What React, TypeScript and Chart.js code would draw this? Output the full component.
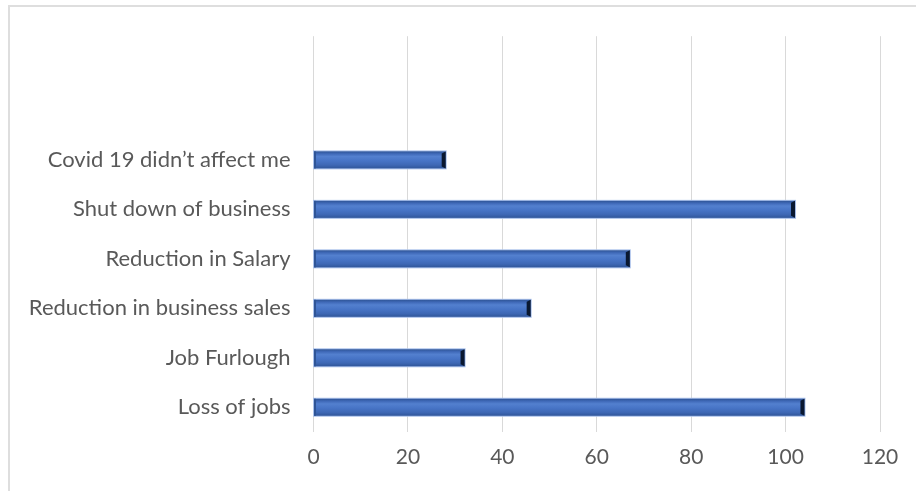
import React, { useEffect, useRef } from "react";
import { Chart, registerables } from "chart.js";

Chart.register(...registerables);

const categories: string[] = [
  "",
  "",
  "Covid 19 didn’t affect me",
  "Shut down of business",
  "Reduction in Salary",
  "Reduction in business sales",
  "Job Furlough",
  "Loss of jobs",
];
const values: (number | null)[] = [null, null, 28, 102, 67, 46, 32, 104];
const xTicks = { min: 0, max: 120, step: 20 };

const bevelPlugin = {
  id: "bevelBars",
  afterDatasetsDraw(chart: any) {
    const ctx = chart.ctx as CanvasRenderingContext2D;
    const meta = chart.getDatasetMeta(0);
    meta.data.forEach((el: any, i: number) => {
      if (values[i] == null) return;
      const { x, y, base, height } = el.getProps(["x", "y", "base", "height"], true);
      const top = y - height / 2;
      const left = base;
      const w = x - base;
      ctx.save();
      ctx.fillStyle = "#A9C0EA";
      ctx.fillRect(left - 1, top - 1, w + 2, height + 2);
      const g = ctx.createLinearGradient(0, top, 0, top + height);
      g.addColorStop(0, "#2F5597");
      g.addColorStop(0.14, "#3F69B8");
      g.addColorStop(0.3, "#5380CF");
      g.addColorStop(0.55, "#4774C6");
      g.addColorStop(0.8, "#3E68B5");
      g.addColorStop(1, "#30569A");
      ctx.fillStyle = g;
      ctx.fillRect(left, top, w, height);
      ctx.fillStyle = "#2F5597";
      ctx.fillRect(left, top, 2, height);
      ctx.fillStyle = "#0A1830";
      ctx.beginPath();
      ctx.moveTo(x - 4, top + 2);
      ctx.lineTo(x, top);
      ctx.lineTo(x, top + height);
      ctx.lineTo(x - 4, top + height - 2);
      ctx.closePath();
      ctx.fill();
      ctx.restore();
    });
  },
};

export default function App() {
  const ref = useRef<HTMLCanvasElement | null>(null);
  useEffect(() => {
    if (!ref.current) return;
    const family = "Lato, 'Open Sans', sans-serif";
    const chart = new Chart(ref.current, {
      type: "bar",
      data: {
        labels: categories,
        datasets: [
          {
            data: values,
            backgroundColor: "rgba(0,0,0,0)",
            borderWidth: 0,
            barThickness: 17,
          },
        ],
      },
      options: {
        indexAxis: "y",
        animation: false,
        responsive: false,
        maintainAspectRatio: false,
        layout: { padding: { top: 36, right: 36, left: 0, bottom: 0 } },
        plugins: { legend: { display: false }, tooltip: { enabled: false } },
        scales: {
          x: {
            min: xTicks.min,
            max: xTicks.max,
            ticks: { stepSize: xTicks.step, color: "#595959", font: { family, size: 21 }, padding: 13 },
            grid: { color: "#d9d9d9", drawTicks: false },
            border: { display: false },
            afterFit: (s: any) => {
              s.height = 59;
            },
          },
          y: {
            ticks: { color: "#595959", font: { family, size: 22 }, padding: 23, autoSkip: false },
            grid: { display: false, drawTicks: false },
            border: { display: false },
            afterFit: (s: any) => {
              s.width = 313.5;
            },
          },
        },
      },
      plugins: [bevelPlugin],
    });
    return () => chart.destroy();
  }, []);
  return (
    <div style={{ position: "fixed", left: 0, top: 0, width: 916, height: 491, background: "#fff", overflow: "hidden" }}>
      <div
        style={{
          position: "absolute",
          left: 8,
          top: 5,
          width: 1000,
          height: 1000,
          border: "2px solid #dedede",
          boxSizing: "border-box",
        }}
      />
      <canvas ref={ref} width={916} height={491} style={{ position: "absolute", left: 0, top: 0 }} />
    </div>
  );
}
